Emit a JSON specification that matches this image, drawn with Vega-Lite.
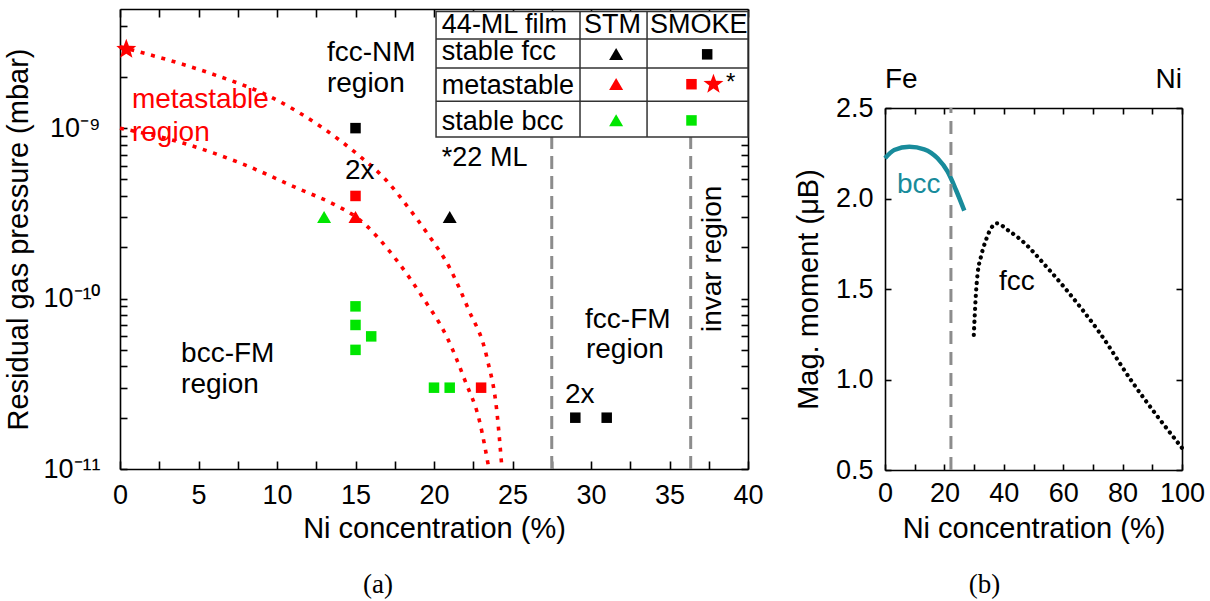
{
  "$schema": "https://vega.github.io/schema/vega-lite/v6.json",
  "padding": {"left": 4, "top": 8, "right": 5, "bottom": 5},
  "background": "white",
  "config": {
    "font": "Liberation Sans",
    "view": {"stroke": null},
    "axis": {"domainColor": "#000", "domainWidth": 1.6, "tickColor": "#000", "tickWidth": 1.6, "labelColor": "#000", "titleColor": "#000", "labelFont": "Liberation Sans", "titleFont": "Liberation Sans", "labelFontSize": 27, "titleFontSize": 29, "titleFontWeight": "normal", "grid": false, "labelOverlap": false, "labelFlush": false},
    "title": {"font": "Liberation Serif", "fontSize": 27, "fontWeight": "normal", "color": "#000"},
    "text": {"font": "Liberation Sans"}
  },
  "spacing": 30,
  "hconcat": [
    {
      "width": 628,
      "height": 460,
      "title": {"text": "(a)", "orient": "bottom", "frame": "bounds", "offset": 29, "dx": -6},
      "resolve": {"axis": {"x": "independent", "y": "independent"}},
      "layer": [
        {
          "data": {"values": [
            {"curve": "upper", "x": 0, "p": 3.0e-9},
            {"curve": "upper", "x": 5.73, "p": 2.1e-9},
            {"curve": "upper", "x": 9.75, "p": 1.5e-9},
            {"curve": "upper", "x": 12.93, "p": 1.0e-9},
            {"curve": "upper", "x": 15.1, "p": 7.05e-10},
            {"curve": "upper", "x": 17.0, "p": 4.9e-10},
            {"curve": "upper", "x": 18.28, "p": 3.5e-10},
            {"curve": "upper", "x": 19.55, "p": 2.43e-10},
            {"curve": "upper", "x": 21.02, "p": 1.5e-10},
            {"curve": "upper", "x": 22.17, "p": 8.75e-11},
            {"curve": "upper", "x": 23.38, "p": 4.46e-11},
            {"curve": "upper", "x": 24.01, "p": 2.15e-11},
            {"curve": "upper", "x": 24.33, "p": 1.0e-11},
            {"curve": "lower", "x": 0, "p": 1.0e-9},
            {"curve": "lower", "x": 4.01, "p": 8.17e-10},
            {"curve": "lower", "x": 7.83, "p": 6.15e-10},
            {"curve": "lower", "x": 11.27, "p": 4.45e-10},
            {"curve": "lower", "x": 13.82, "p": 3.5e-10},
            {"curve": "lower", "x": 15.1, "p": 2.98e-10},
            {"curve": "lower", "x": 17.64, "p": 1.67e-10},
            {"curve": "lower", "x": 19.3, "p": 1.01e-10},
            {"curve": "lower", "x": 20.83, "p": 5.92e-11},
            {"curve": "lower", "x": 21.97, "p": 3.31e-11},
            {"curve": "lower", "x": 22.93, "p": 1.86e-11},
            {"curve": "lower", "x": 23.5, "p": 1.0e-11}
          ]},
          "mark": {"type": "line", "color": "#ff0000", "strokeWidth": 3.6, "strokeDash": [4, 6.7], "interpolate": "monotone"},
          "encoding": {
            "x": {"field": "x", "type": "quantitative", "scale": {"domain": [0, 40], "nice": false},
              "axis": {"orient": "bottom", "values": [0, 2.5, 5, 7.5, 10, 12.5, 15, 17.5, 20, 22.5, 25, 27.5, 30, 32.5, 35, 37.5, 40], "labelExpr": "datum.value % 5 === 0 ? datum.label : ''", "tickSize": -8, "labelPadding": 21, "title": "Ni concentration (%)", "titlePadding": 6}},
            "y": {"field": "p", "type": "quantitative", "scale": {"type": "log", "domain": [1e-11, 5e-9], "nice": false},
              "axis": {"orient": "left", "values": [1e-11, 2e-11, 3e-11, 4e-11, 5e-11, 6e-11, 7e-11, 8e-11, 9e-11, 1e-10, 2e-10, 3e-10, 4e-10, 5e-10, 6e-10, 7e-10, 8e-10, 9e-10, 1e-9, 2e-9, 3e-9, 4e-9], "labelExpr": "datum.value == 1e-9 ? '10\u207b\u2079' : datum.value == 1e-10 ? '10\u207b\u00b9\u2070' : datum.value == 1e-11 ? '10\u207b\u00b9\u00b9' : ''", "labelFontSize": 27, "tickSize": -7, "labelPadding": 27, "title": "Residual gas pressure (mbar)", "titlePadding": 9}},
            "detail": {"field": "curve"}
          }
        },
        {
          "data": {"values": [
            {"x": 27.5, "p0": 1e-11, "p1": 8.86e-10},
            {"x": 36.35, "p0": 1e-11, "p1": 8.86e-10}
          ]},
          "mark": {"type": "rule", "color": "#8c8c8c", "strokeWidth": 3, "strokeDash": [13, 7]},
          "encoding": {
            "x": {"field": "x", "type": "quantitative", "scale": {"domain": [0, 40], "nice": false},
              "axis": {"orient": "top", "values": [0, 2.5, 5, 7.5, 10, 12.5, 15, 17.5, 20, 22.5, 25, 27.5, 30, 32.5, 35, 37.5, 40], "labels": false, "tickSize": -8, "title": null}},
            "y": {"field": "p0", "type": "quantitative", "scale": {"type": "log", "domain": [1e-11, 5e-9], "nice": false},
              "axis": {"orient": "right", "values": [1e-11, 2e-11, 3e-11, 4e-11, 5e-11, 6e-11, 7e-11, 8e-11, 9e-11, 1e-10, 2e-10, 3e-10, 4e-10, 5e-10, 6e-10, 7e-10, 8e-10, 9e-10, 1e-9, 2e-9, 3e-9, 4e-9], "labels": false, "tickSize": -7, "title": null}},
            "y2": {"field": "p1"}
          }
        },
        {
          "data": {"values": [{"x0": 20.13, "x1": 40, "p0": 8.86e-10, "p1": 4.83e-9}]},
          "mark": {"type": "rect", "fill": "#ffffff", "stroke": "#333333", "strokeWidth": 1.5},
          "encoding": {
            "x": {"field": "x0", "type": "quantitative", "scale": {"domain": [0, 40], "nice": false}, "axis": null},
            "x2": {"field": "x1"},
            "y": {"field": "p0", "type": "quantitative", "scale": {"type": "log", "domain": [1e-11, 5e-9], "nice": false}, "axis": null},
            "y2": {"field": "p1"}
          }
        },
        {
          "data": {"values": [
            {"x0": 20.13, "x1": 40, "p": 3.33e-9},
            {"x0": 20.13, "x1": 40, "p": 2.25e-9},
            {"x0": 20.13, "x1": 40, "p": 1.44e-9}
          ]},
          "mark": {"type": "rule", "color": "#333333", "strokeWidth": 1.5},
          "encoding": {
            "x": {"field": "x0", "type": "quantitative", "scale": {"domain": [0, 40], "nice": false}, "axis": null},
            "x2": {"field": "x1"},
            "y": {"field": "p", "type": "quantitative", "scale": {"type": "log", "domain": [1e-11, 5e-9], "nice": false}, "axis": null}
          }
        },
        {
          "data": {"values": [
            {"x": 29.3, "p0": 8.86e-10, "p1": 4.83e-9},
            {"x": 33.57, "p0": 8.86e-10, "p1": 4.83e-9}
          ]},
          "mark": {"type": "rule", "color": "#333333", "strokeWidth": 1.5},
          "encoding": {
            "x": {"field": "x", "type": "quantitative", "scale": {"domain": [0, 40], "nice": false}, "axis": null},
            "y": {"field": "p0", "type": "quantitative", "scale": {"type": "log", "domain": [1e-11, 5e-9], "nice": false}, "axis": null},
            "y2": {"field": "p1"}
          }
        },
        {
          "data": {"values": [
            {"x": 15, "p": 1e-9, "method": "SMOKE", "phase": "stable fcc"},
            {"x": 21, "p": 3e-10, "method": "STM", "phase": "stable fcc"},
            {"x": 29, "p": 2e-11, "method": "SMOKE", "phase": "stable fcc"},
            {"x": 31, "p": 2e-11, "method": "SMOKE", "phase": "stable fcc"},
            {"x": 15, "p": 4e-10, "method": "SMOKE", "phase": "metastable"},
            {"x": 15, "p": 3e-10, "method": "STM", "phase": "metastable"},
            {"x": 23, "p": 3e-11, "method": "SMOKE", "phase": "metastable"},
            {"x": 0.4, "p": 2.9e-9, "method": "SMOKE 22 ML", "phase": "metastable"},
            {"x": 13, "p": 3e-10, "method": "STM", "phase": "stable bcc"},
            {"x": 15, "p": 9e-11, "method": "SMOKE", "phase": "stable bcc"},
            {"x": 15, "p": 7e-11, "method": "SMOKE", "phase": "stable bcc"},
            {"x": 16, "p": 6e-11, "method": "SMOKE", "phase": "stable bcc"},
            {"x": 15, "p": 5e-11, "method": "SMOKE", "phase": "stable bcc"},
            {"x": 20, "p": 3e-11, "method": "SMOKE", "phase": "stable bcc"},
            {"x": 21, "p": 3e-11, "method": "SMOKE", "phase": "stable bcc"},
            {"x": 31.6, "p": 2.71e-9, "method": "STM", "phase": "stable fcc"},
            {"x": 37.4, "p": 2.71e-9, "method": "SMOKE", "phase": "stable fcc"},
            {"x": 31.6, "p": 1.81e-9, "method": "STM", "phase": "metastable"},
            {"x": 36.4, "p": 1.81e-9, "method": "SMOKE", "phase": "metastable"},
            {"x": 37.8, "p": 1.81e-9, "method": "SMOKE 22 ML", "phase": "metastable"},
            {"x": 31.6, "p": 1.11e-9, "method": "STM", "phase": "stable bcc"},
            {"x": 36.4, "p": 1.11e-9, "method": "SMOKE", "phase": "stable bcc"}
          ]},
          "mark": {"type": "point", "filled": true, "opacity": 1, "strokeWidth": 0, "size": 100},
          "encoding": {
            "x": {"field": "x", "type": "quantitative", "scale": {"domain": [0, 40], "nice": false}, "axis": null},
            "y": {"field": "p", "type": "quantitative", "scale": {"type": "log", "domain": [1e-11, 5e-9], "nice": false}, "axis": null},
            "shape": {"field": "method", "type": "nominal", "legend": null,
              "scale": {"domain": ["STM", "SMOKE", "SMOKE 22 ML"], "range": ["M0,-1.25L1.4,1.15L-1.4,1.15Z", "M-1.05,-1.05L1.05,-1.05L1.05,1.05L-1.05,1.05Z", "M0,-2.1L0.519,-0.714L1.997,-0.649L0.838,0.273L1.235,1.699L0,0.882L-1.235,1.699L-0.838,0.273L-1.997,-0.649L-0.519,-0.714Z"]}},
            "color": {"field": "phase", "type": "nominal", "legend": null,
              "scale": {"domain": ["stable fcc", "metastable", "stable bcc"], "range": ["#000000", "#ff0000", "#00e600"]}}
          }
        },
        {
          "data": {"values": [
            {"t": "fcc-NM", "x": 13.18, "p": 2.47e-9},
            {"t": "region", "x": 13.18, "p": 1.63e-9},
            {"t": "2x", "x": 14.33, "p": 5.04e-10},
            {"t": "bcc-FM", "x": 3.89, "p": 4.23e-11},
            {"t": "region", "x": 3.89, "p": 2.78e-11},
            {"t": "fcc-FM", "x": 29.62, "p": 6.76e-11},
            {"t": "region", "x": 29.68, "p": 4.46e-11},
            {"t": "2x", "x": 28.34, "p": 2.43e-11}
          ]},
          "mark": {"type": "text", "align": "left", "baseline": "alphabetic", "fontSize": 28, "color": "#000"},
          "encoding": {
            "x": {"field": "x", "type": "quantitative", "scale": {"domain": [0, 40], "nice": false}, "axis": null},
            "y": {"field": "p", "type": "quantitative", "scale": {"type": "log", "domain": [1e-11, 5e-9], "nice": false}, "axis": null},
            "text": {"field": "t"}
          }
        },
        {
          "data": {"values": [
            {"t": "*22 ML", "x": 20.5, "p": 6.0e-10},
            {"t": "44-ML film", "x": 20.5, "p": 3.6e-9},
            {"t": "STM", "x": 29.55, "p": 3.6e-9},
            {"t": "SMOKE", "x": 33.76, "p": 3.6e-9},
            {"t": "stable fcc", "x": 20.5, "p": 2.5e-9},
            {"t": "metastable", "x": 20.5, "p": 1.58e-9},
            {"t": "stable bcc", "x": 20.5, "p": 9.72e-10}
          ]},
          "mark": {"type": "text", "align": "left", "baseline": "alphabetic", "fontSize": 27, "color": "#000"},
          "encoding": {
            "x": {"field": "x", "type": "quantitative", "scale": {"domain": [0, 40], "nice": false}, "axis": null},
            "y": {"field": "p", "type": "quantitative", "scale": {"type": "log", "domain": [1e-11, 5e-9], "nice": false}, "axis": null},
            "text": {"field": "t"}
          }
        },
        {
          "data": {"values": [
            {"t": "metastable", "x": 0.76, "p": 1.31e-9},
            {"t": "region", "x": 0.76, "p": 8.4e-10}
          ]},
          "mark": {"type": "text", "align": "left", "baseline": "alphabetic", "fontSize": 28, "color": "#ff0000"},
          "encoding": {
            "x": {"field": "x", "type": "quantitative", "scale": {"domain": [0, 40], "nice": false}, "axis": null},
            "y": {"field": "p", "type": "quantitative", "scale": {"type": "log", "domain": [1e-11, 5e-9], "nice": false}, "axis": null},
            "text": {"field": "t"}
          }
        },
        {
          "data": {"values": [{"t": "invar region", "x": 37.75, "p": 1.71e-10}]},
          "mark": {"type": "text", "align": "center", "baseline": "middle", "angle": 270, "fontSize": 28, "color": "#000"},
          "encoding": {
            "x": {"field": "x", "type": "quantitative", "scale": {"domain": [0, 40], "nice": false}, "axis": null},
            "y": {"field": "p", "type": "quantitative", "scale": {"type": "log", "domain": [1e-11, 5e-9], "nice": false}, "axis": null},
            "text": {"field": "t"}
          }
        },
        {
          "data": {"values": [{"t": "*", "x": 38.6, "p": 1.67e-9}]},
          "mark": {"type": "text", "align": "left", "baseline": "alphabetic", "fontSize": 24, "color": "#000"},
          "encoding": {
            "x": {"field": "x", "type": "quantitative", "scale": {"domain": [0, 40], "nice": false}, "axis": null},
            "y": {"field": "p", "type": "quantitative", "scale": {"type": "log", "domain": [1e-11, 5e-9], "nice": false}, "axis": null},
            "text": {"field": "t"}
          }
        }
      ]
    },
    {
      "spacing": 20,
      "bounds": "flush",
      "vconcat": [
        {
          "width": 297,
          "height": 79,
          "data": {"values": [{"label": "Fe", "x": 0}, {"label": "Ni", "x": 100}]},
          "layer": [
            {
              "transform": [{"filter": "datum.label == 'Fe'"}],
              "mark": {"type": "text", "align": "left", "baseline": "alphabetic", "fontSize": 28, "color": "#000"},
              "encoding": {
                "x": {"field": "x", "type": "quantitative", "scale": {"domain": [0, 100], "nice": false}, "axis": null},
                "y": {"datum": 0, "type": "quantitative", "scale": {"domain": [0, 1]}, "axis": null},
                "text": {"field": "label"}
              }
            },
            {
              "transform": [{"filter": "datum.label == 'Ni'"}],
              "mark": {"type": "text", "align": "right", "baseline": "alphabetic", "fontSize": 28, "color": "#000"},
              "encoding": {
                "x": {"field": "x", "type": "quantitative", "scale": {"domain": [0, 100], "nice": false}, "axis": null},
                "y": {"datum": 0, "type": "quantitative", "scale": {"domain": [0, 1]}, "axis": null},
                "text": {"field": "label"}
              }
            }
          ]
        },
        {
          "width": 297,
          "height": 362,
          "title": {"text": "(b)", "orient": "bottom", "frame": "bounds", "offset": 29, "dx": -15},
          "resolve": {"axis": {"x": "independent", "y": "independent"}},
          "layer": [
            {
              "data": {"values": [
                {"x": 0, "m": 2.222},
                {"x": 3.1, "m": 2.268},
                {"x": 8.2, "m": 2.286},
                {"x": 13.2, "m": 2.272},
                {"x": 17.7, "m": 2.222},
                {"x": 21.1, "m": 2.148},
                {"x": 23.9, "m": 2.047},
                {"x": 26.7, "m": 1.933}
              ]},
              "mark": {"type": "line", "color": "#188b9b", "strokeWidth": 4.5, "interpolate": "monotone"},
              "encoding": {
                "x": {"field": "x", "type": "quantitative", "scale": {"domain": [0, 100], "nice": false},
                  "axis": {"orient": "bottom", "values": [0, 10, 20, 30, 40, 50, 60, 70, 80, 90, 100], "labelExpr": "datum.value % 20 === 0 ? datum.label : ''", "tickSize": -6, "labelPadding": 16, "title": "Ni concentration (%)", "titlePadding": 8}},
                "y": {"field": "m", "type": "quantitative", "scale": {"domain": [0.5, 2.5], "nice": false},
                  "axis": {"orient": "left", "values": [0.5, 1.0, 1.5, 2.0, 2.5], "format": ".1f", "tickSize": -6, "labelPadding": 18, "title": "Mag. moment (\u03bcB)", "titlePadding": 12}}
              }
            },
            {
              "data": {"values": [
                {"x": 29.9, "m": 1.246},
                {"x": 30.2, "m": 1.35},
                {"x": 30.6, "m": 1.47},
                {"x": 31.2, "m": 1.587},
                {"x": 32.3, "m": 1.678},
                {"x": 34.0, "m": 1.771},
                {"x": 35.7, "m": 1.835},
                {"x": 37.7, "m": 1.863},
                {"x": 41.3, "m": 1.826},
                {"x": 45.8, "m": 1.771},
                {"x": 54.8, "m": 1.615},
                {"x": 66.0, "m": 1.395},
                {"x": 72.0, "m": 1.265},
                {"x": 82.8, "m": 0.997},
                {"x": 100, "m": 0.622}
              ]},
              "mark": {"type": "line", "color": "#000000", "strokeWidth": 4.2, "strokeDash": [0.1, 6.4], "strokeCap": "round", "interpolate": "monotone"},
              "encoding": {
                "x": {"field": "x", "type": "quantitative", "scale": {"domain": [0, 100], "nice": false}, "axis": null},
                "y": {"field": "m", "type": "quantitative", "scale": {"domain": [0.5, 2.5], "nice": false}, "axis": null}
              }
            },
            {
              "data": {"values": [{"x": 22.2, "m0": 0.5, "m1": 2.5}]},
              "mark": {"type": "rule", "color": "#8c8c8c", "strokeWidth": 3, "strokeDash": [13, 8]},
              "encoding": {
                "x": {"field": "x", "type": "quantitative", "scale": {"domain": [0, 100], "nice": false},
                  "axis": {"orient": "top", "values": [0, 10, 20, 30, 40, 50, 60, 70, 80, 90, 100], "labels": false, "tickSize": -6, "title": null}},
                "y": {"field": "m0", "type": "quantitative", "scale": {"domain": [0.5, 2.5], "nice": false},
                  "axis": {"orient": "right", "values": [0.5, 1.0, 1.5, 2.0, 2.5], "labels": false, "tickSize": -6, "title": null}},
                "y2": {"field": "m1"}
              }
            },
            {
              "data": {"values": [{"t": "bcc", "x": 4.0, "m": 2.03}]},
              "mark": {"type": "text", "align": "left", "baseline": "alphabetic", "fontSize": 28, "color": "#188b9b"},
              "encoding": {
                "x": {"field": "x", "type": "quantitative", "scale": {"domain": [0, 100], "nice": false}, "axis": null},
                "y": {"field": "m", "type": "quantitative", "scale": {"domain": [0.5, 2.5], "nice": false}, "axis": null},
                "text": {"field": "t"}
              }
            },
            {
              "data": {"values": [{"t": "fcc", "x": 38.4, "m": 1.494}]},
              "mark": {"type": "text", "align": "left", "baseline": "alphabetic", "fontSize": 28, "color": "#000000"},
              "encoding": {
                "x": {"field": "x", "type": "quantitative", "scale": {"domain": [0, 100], "nice": false}, "axis": null},
                "y": {"field": "m", "type": "quantitative", "scale": {"domain": [0.5, 2.5], "nice": false}, "axis": null},
                "text": {"field": "t"}
              }
            }
          ]
        }
      ]
    }
  ]
}
